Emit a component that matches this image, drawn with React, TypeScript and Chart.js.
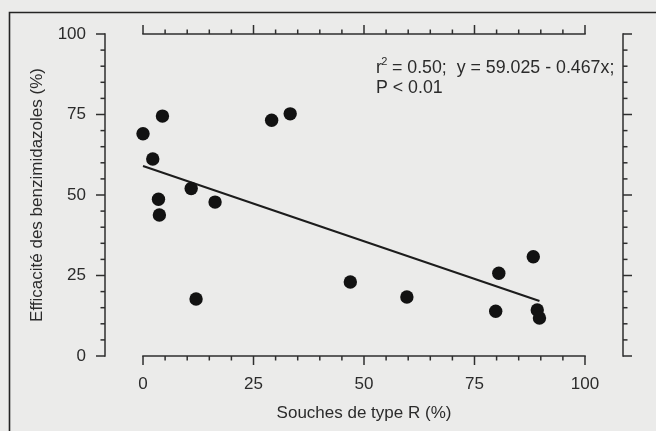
import React, { useEffect, useRef } from 'react';
import { Chart, registerables } from 'chart.js';

Chart.register(...registerables);

// Data
const resistantPct = [0, 4.4, 2.2, 10.9, 3.5, 16.3, 3.7, 29.1, 33.3, 12.0, 46.9, 59.7, 80.5, 88.3, 79.8, 89.2, 89.7];
const efficacyPct = [69.0, 74.5, 61.2, 52.0, 48.7, 47.8, 43.8, 73.2, 75.2, 17.7, 23.0, 18.3, 25.7, 30.8, 13.9, 14.3, 11.8];
const fitX = [0, 89.7];
const fitY = [59.0, 17.1];
const majorTicks = [0, 25, 50, 75, 100];
const minorTicks = [5, 10, 15, 20, 30, 35, 40, 45, 55, 60, 65, 70, 80, 85, 90, 95];
const xTitle = 'Souches de type R (%)';
const yTitle = 'Efficacité des benzimidazoles (%)';
const statLine1a = 'r';
const statLine1sup = '2';
const statLine1b = ' = 0.50;  y = 59.025 - 0.467x;';
const statLine2 = 'P < 0.01';

const BG = '#ebebea';
const INK = '#1c1c1c';
const AXIS = '#2e2e2e';
const TEXT = '#2b2b2b';
const FAMILY = "'Liberation Sans', Arial, sans-serif";

const axesPlugin = {
  id: 'openAxes',
  beforeDraw(chart: any) {
    const { ctx, width, height } = chart;
    ctx.save();
    ctx.fillStyle = BG;
    ctx.fillRect(0, 0, width, height);
    ctx.strokeStyle = '#242424';
    ctx.lineWidth = 1.6;
    ctx.beginPath();
    ctx.moveTo(9.5, height + 4);
    ctx.lineTo(9.5, 12.5);
    ctx.lineTo(width + 4, 12.5);
    ctx.stroke();
    ctx.restore();
  },
  beforeDatasetsDraw(chart: any) {
    const { ctx, chartArea } = chart;
    const xs = chart.scales.x;
    const ys = chart.scales.y;
    const { left, right } = chartArea;
    const x0 = xs.getPixelForValue(0);
    const x100 = xs.getPixelForValue(100);
    const y0 = ys.getPixelForValue(0);
    const y100 = ys.getPixelForValue(100);
    ctx.save();
    ctx.strokeStyle = AXIS;
    ctx.lineWidth = 1.5;
    ctx.lineCap = 'butt';
    const seg = (a: number, b: number, c: number, d: number) => {
      ctx.beginPath();
      ctx.moveTo(a, b);
      ctx.lineTo(c, d);
      ctx.stroke();
    };
    // vertical axes
    seg(left, y100 - 0.75, left, y0 + 0.75);
    seg(right, y100 - 0.75, right, y0 + 0.75);
    // horizontal axes
    seg(x0 - 0.75, y0, x100 + 0.75, y0);
    seg(x0 - 0.75, y100, x100 + 0.75, y100);
    const all = [
      ...majorTicks.map((v) => ({ v, len: 9 })),
      ...minorTicks.map((v) => ({ v, len: 4.5 })),
    ];
    all.forEach(({ v, len }) => {
      const py = ys.getPixelForValue(v);
      seg(left - len, py, left, py);
      seg(right, py, right + len, py);
      const px = xs.getPixelForValue(v);
      seg(px, y0, px, y0 + len);
      seg(px, y100, px, y100 - len);
    });
    ctx.restore();
  },
  afterDraw(chart: any) {
    const { ctx } = chart;
    const xs = chart.scales.x;
    const ys = chart.scales.y;
    const tx = xs.getPixelForValue(52.7);
    const ty1 = ys.getPixelForValue(88.0);
    const ty2 = ty1 + 20;
    ctx.save();
    ctx.fillStyle = TEXT;
    ctx.textAlign = 'left';
    ctx.textBaseline = 'alphabetic';
    ctx.font = `17.8px ${FAMILY}`;
    ctx.fillText(statLine1a, tx, ty1);
    const wr = ctx.measureText(statLine1a).width;
    ctx.font = `11px ${FAMILY}`;
    ctx.fillText(statLine1sup, tx + wr - 0.5, ty1 - 7.5);
    const ws = ctx.measureText(statLine1sup).width;
    ctx.font = `17.8px ${FAMILY}`;
    ctx.fillText(statLine1b, tx + wr + ws - 1, ty1);
    ctx.fillText(statLine2, tx, ty2);
    ctx.restore();
  },
};

export default function App() {
  const ref = useRef<HTMLCanvasElement | null>(null);

  useEffect(() => {
    document.body.style.margin = '0';
    const canvas = ref.current;
    if (!canvas) return;
    const font = { family: FAMILY, size: 17 };
    const chart = new Chart(canvas, {
      type: 'scatter',
      data: {
        datasets: [
          {
            type: 'line',
            data: fitX.map((x, i) => ({ x, y: fitY[i] })),
            borderColor: INK,
            borderWidth: 2,
            pointRadius: 0,
            fill: false,
            tension: 0,
            order: 2,
          } as any,
          {
            type: 'scatter',
            data: resistantPct.map((x, i) => ({ x, y: efficacyPct[i] })),
            backgroundColor: '#121212',
            borderColor: '#121212',
            borderWidth: 0,
            pointRadius: 6.7,
            pointHoverRadius: 6.7,
            order: 1,
          } as any,
        ],
      },
      options: {
        responsive: false,
        animation: false,
        events: [],
        layout: { padding: { left: 0, top: 34, right: 33, bottom: 0 } },
        plugins: { legend: { display: false }, tooltip: { enabled: false } },
        scales: {
          x: {
            type: 'linear',
            min: -8.6,
            max: 108.6,
            afterBuildTicks: (s: any) => {
              s.ticks = majorTicks.map((v) => ({ value: v }));
            },
            afterFit: (s: any) => {
              s.height = 75;
            },
            grid: {
              display: true,
              drawOnChartArea: false,
              drawTicks: true,
              tickLength: 9,
              tickColor: 'rgba(0,0,0,0)',
            },
            border: { display: false },
            ticks: { padding: 9, color: TEXT, font, maxRotation: 0, autoSkip: false },
            title: {
              display: true,
              text: xTitle,
              color: TEXT,
              font,
              padding: { top: 0, bottom: 7 },
            },
          },
          y: {
            type: 'linear',
            min: 0,
            max: 100,
            afterBuildTicks: (s: any) => {
              s.ticks = majorTicks.map((v) => ({ value: v }));
            },
            afterFit: (s: any) => {
              s.width = 105;
            },
            grid: {
              display: true,
              drawOnChartArea: false,
              drawTicks: true,
              tickLength: 9,
              tickColor: 'rgba(0,0,0,0)',
            },
            border: { display: false },
            ticks: { padding: 10, color: TEXT, font, autoSkip: false },
            title: {
              display: true,
              text: yTitle,
              color: TEXT,
              font,
              padding: { top: 27, bottom: 0 },
            },
          },
        },
      } as any,
      plugins: [axesPlugin],
    });
    return () => chart.destroy();
  }, []);

  return (
    <div style={{ width: 656, height: 431 }}>
      <canvas ref={ref} width={656} height={431} style={{ display: 'block' }} />
    </div>
  );
}
